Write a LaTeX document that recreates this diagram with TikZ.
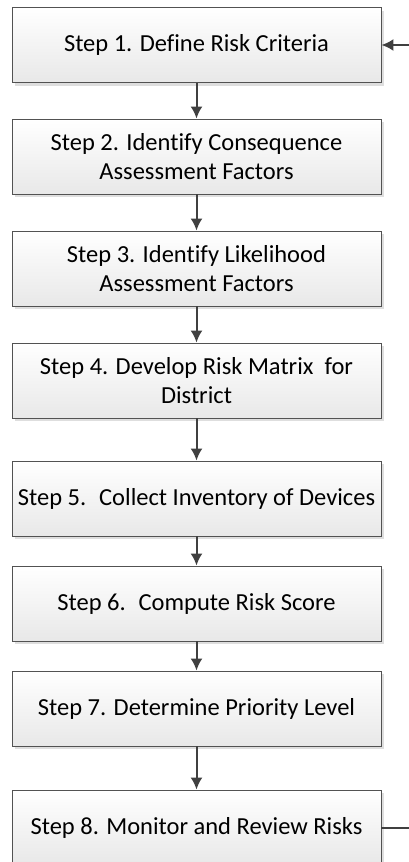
\documentclass[tikz,border=0pt]{standalone}
\usepackage{fontspec}
\setmainfont{Carlito}[Ligatures=CommonOff]
\usetikzlibrary{arrows.meta,shadows}

\tikzset{
  stepbox/.style={draw=black!68, line width=0.9pt,
    minimum width=369pt, minimum height=75pt, inner sep=0pt,
    align=center, top color=white, bottom color=black!9,
    drop shadow={shadow xshift=3pt, shadow yshift=-3pt,
      opacity=1, fill=black!13},
    font=\fontsize{24.5}{29}\selectfont},
  flow/.style={draw=black!75, line width=2pt,
    -{Latex[length=12pt,width=12pt]}}
}

\begin{document}
\begin{tikzpicture}[x=1pt,y=-1pt]
  \useasboundingbox (0,0) rectangle (409,862);
  \clip (0,0) rectangle (409,862);

  \node[stepbox] (s1) at (196.5,45) {Step 1. Define Risk Criteria};
  \node[stepbox] (s2) at (196.5,156.5)
    {Step 2. Identify Consequence\\Assessment Factors};
  \node[stepbox] (s3) at (196.5,268.5)
    {Step 3. Identify Likelihood\\Assessment Factors};
  \node[stepbox] (s4) at (196.5,380.5)
    {Step 4. Develop Risk Matrix~ for\\District};
  \node[stepbox] (s5) at (196.5,498.5)
    {Step 5.~ Collect Inventory of Devices};
  \node[stepbox] (s6) at (196.5,603.5) {Step 6.~ Compute Risk Score};
  \node[stepbox] (s7) at (196.5,708.5) {Step 7. Determine Priority Level};
  \node[stepbox] (s8) at (196.5,827.5) {Step 8. Monitor and Review Risks};

  \draw[flow] (s1) -- (s2);
  \draw[flow] (s2) -- (s3);
  \draw[flow] (s3) -- (s4);
  \draw[flow] (s4) -- (s5);
  \draw[flow] (s5) -- (s6);
  \draw[flow] (s6) -- (s7);
  \draw[flow] (s7) -- (s8);

  % loop back from the last step to the first one
  \draw[flow] (s8.east) -- ++(45,0) |- (s1.east);
\end{tikzpicture}
\end{document}
